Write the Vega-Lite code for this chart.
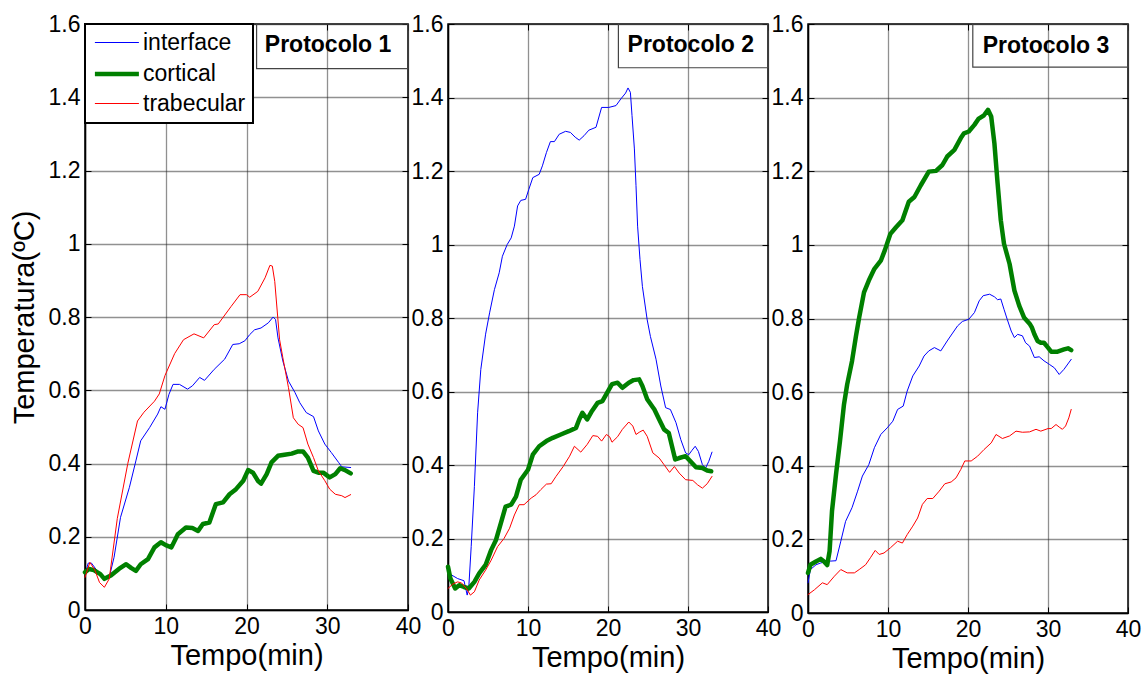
{
  "$schema": "https://vega.github.io/schema/vega-lite/v6.json",
  "background": "white",
  "padding": {"left": 9, "top": 12, "right": 5, "bottom": 5},
  "config": {
    "font": "Liberation Sans",
    "view": {"stroke": "#000", "strokeWidth": 1.5},
    "axis": {
      "domainColor": "#000", "domainWidth": 1.5,
      "tickColor": "#000", "tickSize": -6, "tickWidth": 1,
      "labelFont": "Liberation Sans", "labelFontSize": 23, "labelColor": "#000",
      "labelFlush": false, "labelOverlap": false,
      "titleFont": "Liberation Sans", "titleFontSize": 29, "titleFontWeight": "normal", "titleColor": "#000",
      "grid": true, "gridColor": "#222", "gridDash": [1, 1], "gridOpacity": 1, "gridWidth": 1.3
    },
    "axisX": {"labelPadding": 11, "titlePadding": 3},
    "axisY": {"labelPadding": 11, "titlePadding": 9},
    "legend": {
      "orient": "top-left", "offset": 0, "padding": 7,
      "strokeColor": "#000", "strokeWidth": 2, "fillColor": "white",
      "labelFont": "Liberation Sans", "labelFontSize": 23, "labelColor": "#000", "labelLimit": 400, "labelOffset": 12.6,
      "symbolType": "M-2,0H2", "symbolSize": 484, "symbolOffset": 11.4, "rowPadding": 5.5
    }
  },
  "datasets": {
    "p1": [
      {"series": "interface", "time": 0, "temp": 0.098}, {"series": "interface", "time": 0.4, "temp": 0.128}, {"series": "interface", "time": 0.8, "temp": 0.128}, {"series": "interface", "time": 1.5, "temp": 0.107}, {"series": "interface", "time": 2.4, "temp": 0.089}, {"series": "interface", "time": 3.0, "temp": 0.089}, {"series": "interface", "time": 3.6, "temp": 0.144}, {"series": "interface", "time": 4.4, "temp": 0.253}, {"series": "interface", "time": 5.5, "temp": 0.335}, {"series": "interface", "time": 6.3, "temp": 0.407}, {"series": "interface", "time": 6.9, "temp": 0.462}, {"series": "interface", "time": 8.0, "temp": 0.498}, {"series": "interface", "time": 9.0, "temp": 0.535}, {"series": "interface", "time": 9.4, "temp": 0.555}, {"series": "interface", "time": 9.9, "temp": 0.548}, {"series": "interface", "time": 10.4, "temp": 0.589}, {"series": "interface", "time": 10.9, "temp": 0.616}, {"series": "interface", "time": 11.7, "temp": 0.616}, {"series": "interface", "time": 12.7, "temp": 0.603}, {"series": "interface", "time": 13.3, "temp": 0.612}, {"series": "interface", "time": 14.2, "temp": 0.635}, {"series": "interface", "time": 14.8, "temp": 0.627}, {"series": "interface", "time": 16.0, "temp": 0.657}, {"series": "interface", "time": 17.3, "temp": 0.685}, {"series": "interface", "time": 18.3, "temp": 0.725}, {"series": "interface", "time": 19.1, "temp": 0.727}, {"series": "interface", "time": 19.8, "temp": 0.735}, {"series": "interface", "time": 20.4, "temp": 0.752}, {"series": "interface", "time": 21.0, "temp": 0.765}, {"series": "interface", "time": 21.8, "temp": 0.77}, {"series": "interface", "time": 22.7, "temp": 0.784}, {"series": "interface", "time": 23.3, "temp": 0.8}, {"series": "interface", "time": 23.6, "temp": 0.793}, {"series": "interface", "time": 23.9, "temp": 0.743}, {"series": "interface", "time": 24.5, "temp": 0.68}, {"series": "interface", "time": 25.2, "temp": 0.625}, {"series": "interface", "time": 26.0, "temp": 0.594}, {"series": "interface", "time": 26.6, "temp": 0.566}, {"series": "interface", "time": 27.4, "temp": 0.539}, {"series": "interface", "time": 28.3, "temp": 0.528}, {"series": "interface", "time": 28.9, "temp": 0.489}, {"series": "interface", "time": 29.7, "temp": 0.453}, {"series": "interface", "time": 30.5, "temp": 0.43}, {"series": "interface", "time": 31.4, "temp": 0.403}, {"series": "interface", "time": 31.8, "temp": 0.391}, {"series": "interface", "time": 32.9, "temp": 0.389},
      {"series": "cortical", "time": 0, "temp": 0.103}, {"series": "cortical", "time": 0.5, "temp": 0.112}, {"series": "cortical", "time": 1.1, "temp": 0.109}, {"series": "cortical", "time": 1.9, "temp": 0.098}, {"series": "cortical", "time": 2.4, "temp": 0.085}, {"series": "cortical", "time": 3.2, "temp": 0.094}, {"series": "cortical", "time": 4.2, "temp": 0.112}, {"series": "cortical", "time": 5.1, "temp": 0.125}, {"series": "cortical", "time": 5.7, "temp": 0.115}, {"series": "cortical", "time": 6.3, "temp": 0.107}, {"series": "cortical", "time": 6.9, "temp": 0.125}, {"series": "cortical", "time": 7.8, "temp": 0.139}, {"series": "cortical", "time": 8.6, "temp": 0.171}, {"series": "cortical", "time": 9.4, "temp": 0.185}, {"series": "cortical", "time": 10.0, "temp": 0.177}, {"series": "cortical", "time": 10.7, "temp": 0.171}, {"series": "cortical", "time": 11.5, "temp": 0.207}, {"series": "cortical", "time": 12.5, "temp": 0.225}, {"series": "cortical", "time": 13.3, "temp": 0.224}, {"series": "cortical", "time": 14.0, "temp": 0.216}, {"series": "cortical", "time": 14.6, "temp": 0.235}, {"series": "cortical", "time": 15.4, "temp": 0.239}, {"series": "cortical", "time": 16.2, "temp": 0.289}, {"series": "cortical", "time": 17.1, "temp": 0.294}, {"series": "cortical", "time": 17.9, "temp": 0.316}, {"series": "cortical", "time": 18.7, "temp": 0.33}, {"series": "cortical", "time": 19.6, "temp": 0.353}, {"series": "cortical", "time": 20.2, "temp": 0.382}, {"series": "cortical", "time": 20.8, "temp": 0.375}, {"series": "cortical", "time": 21.4, "temp": 0.353}, {"series": "cortical", "time": 21.8, "temp": 0.345}, {"series": "cortical", "time": 22.5, "temp": 0.371}, {"series": "cortical", "time": 23.1, "temp": 0.403}, {"series": "cortical", "time": 23.9, "temp": 0.421}, {"series": "cortical", "time": 24.7, "temp": 0.424}, {"series": "cortical", "time": 25.6, "temp": 0.427}, {"series": "cortical", "time": 26.4, "temp": 0.433}, {"series": "cortical", "time": 27.0, "temp": 0.433}, {"series": "cortical", "time": 27.6, "temp": 0.416}, {"series": "cortical", "time": 28.3, "temp": 0.38}, {"series": "cortical", "time": 28.9, "temp": 0.375}, {"series": "cortical", "time": 29.5, "temp": 0.375}, {"series": "cortical", "time": 30.3, "temp": 0.362}, {"series": "cortical", "time": 31.0, "temp": 0.371}, {"series": "cortical", "time": 31.6, "temp": 0.387}, {"series": "cortical", "time": 32.2, "temp": 0.382}, {"series": "cortical", "time": 32.9, "temp": 0.373},
      {"series": "trabecular", "time": 0, "temp": 0.089}, {"series": "trabecular", "time": 0.6, "temp": 0.13}, {"series": "trabecular", "time": 1.2, "temp": 0.11}, {"series": "trabecular", "time": 1.8, "temp": 0.075}, {"series": "trabecular", "time": 2.4, "temp": 0.062}, {"series": "trabecular", "time": 3.0, "temp": 0.085}, {"series": "trabecular", "time": 4.0, "temp": 0.25}, {"series": "trabecular", "time": 5.3, "temp": 0.4}, {"series": "trabecular", "time": 6.5, "temp": 0.516}, {"series": "trabecular", "time": 7.3, "temp": 0.54}, {"series": "trabecular", "time": 8.6, "temp": 0.57}, {"series": "trabecular", "time": 9.2, "temp": 0.59}, {"series": "trabecular", "time": 9.9, "temp": 0.64}, {"series": "trabecular", "time": 11.1, "temp": 0.7}, {"series": "trabecular", "time": 12.2, "temp": 0.738}, {"series": "trabecular", "time": 13.5, "temp": 0.754}, {"series": "trabecular", "time": 14.7, "temp": 0.743}, {"series": "trabecular", "time": 16.0, "temp": 0.779}, {"series": "trabecular", "time": 16.5, "temp": 0.781}, {"series": "trabecular", "time": 18.1, "temp": 0.829}, {"series": "trabecular", "time": 19.2, "temp": 0.861}, {"series": "trabecular", "time": 20.0, "temp": 0.861}, {"series": "trabecular", "time": 20.4, "temp": 0.854}, {"series": "trabecular", "time": 21.4, "temp": 0.87}, {"series": "trabecular", "time": 22.3, "temp": 0.907}, {"series": "trabecular", "time": 22.9, "temp": 0.941}, {"series": "trabecular", "time": 23.2, "temp": 0.939}, {"series": "trabecular", "time": 23.5, "temp": 0.897}, {"series": "trabecular", "time": 24.1, "temp": 0.738}, {"series": "trabecular", "time": 24.5, "temp": 0.689}, {"series": "trabecular", "time": 25.2, "temp": 0.607}, {"series": "trabecular", "time": 25.8, "temp": 0.525}, {"series": "trabecular", "time": 26.4, "temp": 0.507}, {"series": "trabecular", "time": 27.0, "temp": 0.498}, {"series": "trabecular", "time": 27.6, "temp": 0.453}, {"series": "trabecular", "time": 28.3, "temp": 0.416}, {"series": "trabecular", "time": 28.9, "temp": 0.38}, {"series": "trabecular", "time": 29.7, "temp": 0.353}, {"series": "trabecular", "time": 30.3, "temp": 0.33}, {"series": "trabecular", "time": 31.0, "temp": 0.316}, {"series": "trabecular", "time": 31.8, "temp": 0.312}, {"series": "trabecular", "time": 32.2, "temp": 0.307}, {"series": "trabecular", "time": 32.9, "temp": 0.315}
    ],
    "p2": [
      {"series": "interface", "time": 0, "temp": 0.105}, {"series": "interface", "time": 0.5, "temp": 0.1}, {"series": "interface", "time": 1.2, "temp": 0.091}, {"series": "interface", "time": 2.0, "temp": 0.085}, {"series": "interface", "time": 2.4, "temp": 0.046}, {"series": "interface", "time": 2.6, "temp": 0.068}, {"series": "interface", "time": 2.9, "temp": 0.178}, {"series": "interface", "time": 3.3, "temp": 0.342}, {"series": "interface", "time": 3.7, "temp": 0.542}, {"series": "interface", "time": 4.1, "temp": 0.66}, {"series": "interface", "time": 4.7, "temp": 0.756}, {"series": "interface", "time": 5.2, "temp": 0.814}, {"series": "interface", "time": 5.8, "temp": 0.877}, {"series": "interface", "time": 6.4, "temp": 0.923}, {"series": "interface", "time": 6.8, "temp": 0.968}, {"series": "interface", "time": 7.4, "temp": 1.0}, {"series": "interface", "time": 7.9, "temp": 1.018}, {"series": "interface", "time": 8.3, "temp": 1.05}, {"series": "interface", "time": 8.7, "temp": 1.105}, {"series": "interface", "time": 9.1, "temp": 1.12}, {"series": "interface", "time": 9.7, "temp": 1.123}, {"series": "interface", "time": 10.1, "temp": 1.15}, {"series": "interface", "time": 10.6, "temp": 1.182}, {"series": "interface", "time": 11.4, "temp": 1.191}, {"series": "interface", "time": 11.8, "temp": 1.214}, {"series": "interface", "time": 12.3, "temp": 1.25}, {"series": "interface", "time": 12.8, "temp": 1.28}, {"series": "interface", "time": 13.3, "temp": 1.28}, {"series": "interface", "time": 13.9, "temp": 1.3}, {"series": "interface", "time": 14.7, "temp": 1.308}, {"series": "interface", "time": 15.3, "temp": 1.305}, {"series": "interface", "time": 15.9, "temp": 1.292}, {"series": "interface", "time": 16.4, "temp": 1.284}, {"series": "interface", "time": 17.0, "temp": 1.296}, {"series": "interface", "time": 17.6, "temp": 1.311}, {"series": "interface", "time": 18.5, "temp": 1.319}, {"series": "interface", "time": 19.2, "temp": 1.373}, {"series": "interface", "time": 20.1, "temp": 1.373}, {"series": "interface", "time": 21.0, "temp": 1.378}, {"series": "interface", "time": 21.6, "temp": 1.396}, {"series": "interface", "time": 22.2, "temp": 1.412}, {"series": "interface", "time": 22.5, "temp": 1.426}, {"series": "interface", "time": 22.8, "temp": 1.414}, {"series": "interface", "time": 23.0, "temp": 1.351}, {"series": "interface", "time": 23.3, "temp": 1.26}, {"series": "interface", "time": 23.5, "temp": 1.16}, {"series": "interface", "time": 23.7, "temp": 1.05}, {"series": "interface", "time": 24.0, "temp": 0.959}, {"series": "interface", "time": 24.3, "temp": 0.886}, {"series": "interface", "time": 24.9, "temp": 0.795}, {"series": "interface", "time": 25.3, "temp": 0.75}, {"series": "interface", "time": 26.0, "temp": 0.688}, {"series": "interface", "time": 26.6, "temp": 0.615}, {"series": "interface", "time": 27.2, "temp": 0.556}, {"series": "interface", "time": 27.8, "temp": 0.551}, {"series": "interface", "time": 28.5, "temp": 0.515}, {"series": "interface", "time": 29.1, "temp": 0.469}, {"series": "interface", "time": 29.7, "temp": 0.433}, {"series": "interface", "time": 30.1, "temp": 0.428}, {"series": "interface", "time": 30.5, "temp": 0.44}, {"series": "interface", "time": 30.9, "temp": 0.451}, {"series": "interface", "time": 31.3, "temp": 0.437}, {"series": "interface", "time": 31.8, "temp": 0.401}, {"series": "interface", "time": 32.2, "temp": 0.392}, {"series": "interface", "time": 32.6, "temp": 0.41}, {"series": "interface", "time": 33.0, "temp": 0.435},
      {"series": "cortical", "time": 0, "temp": 0.123}, {"series": "cortical", "time": 0.3, "temp": 0.091}, {"series": "cortical", "time": 0.9, "temp": 0.064}, {"series": "cortical", "time": 1.4, "temp": 0.073}, {"series": "cortical", "time": 2.0, "temp": 0.068}, {"series": "cortical", "time": 2.6, "temp": 0.064}, {"series": "cortical", "time": 3.3, "temp": 0.082}, {"series": "cortical", "time": 3.9, "temp": 0.105}, {"series": "cortical", "time": 4.7, "temp": 0.128}, {"series": "cortical", "time": 5.4, "temp": 0.169}, {"series": "cortical", "time": 6.0, "temp": 0.196}, {"series": "cortical", "time": 6.6, "temp": 0.241}, {"series": "cortical", "time": 7.2, "temp": 0.287}, {"series": "cortical", "time": 7.9, "temp": 0.292}, {"series": "cortical", "time": 8.5, "temp": 0.314}, {"series": "cortical", "time": 9.1, "temp": 0.36}, {"series": "cortical", "time": 10.0, "temp": 0.387}, {"series": "cortical", "time": 10.6, "temp": 0.428}, {"series": "cortical", "time": 11.4, "temp": 0.451}, {"series": "cortical", "time": 12.3, "temp": 0.465}, {"series": "cortical", "time": 13.1, "temp": 0.474}, {"series": "cortical", "time": 14.1, "temp": 0.483}, {"series": "cortical", "time": 15.1, "temp": 0.492}, {"series": "cortical", "time": 16.0, "temp": 0.501}, {"series": "cortical", "time": 16.4, "temp": 0.524}, {"series": "cortical", "time": 16.8, "temp": 0.542}, {"series": "cortical", "time": 17.4, "temp": 0.524}, {"series": "cortical", "time": 18.0, "temp": 0.547}, {"series": "cortical", "time": 18.7, "temp": 0.569}, {"series": "cortical", "time": 19.3, "temp": 0.574}, {"series": "cortical", "time": 19.9, "temp": 0.597}, {"series": "cortical", "time": 20.5, "temp": 0.62}, {"series": "cortical", "time": 21.2, "temp": 0.624}, {"series": "cortical", "time": 21.8, "temp": 0.61}, {"series": "cortical", "time": 22.6, "temp": 0.624}, {"series": "cortical", "time": 23.2, "temp": 0.631}, {"series": "cortical", "time": 23.9, "temp": 0.633}, {"series": "cortical", "time": 24.3, "temp": 0.615}, {"series": "cortical", "time": 24.9, "temp": 0.579}, {"series": "cortical", "time": 25.8, "temp": 0.551}, {"series": "cortical", "time": 26.4, "temp": 0.524}, {"series": "cortical", "time": 27.0, "temp": 0.497}, {"series": "cortical", "time": 27.6, "temp": 0.487}, {"series": "cortical", "time": 28.0, "temp": 0.451}, {"series": "cortical", "time": 28.4, "temp": 0.415}, {"series": "cortical", "time": 28.9, "temp": 0.419}, {"series": "cortical", "time": 29.7, "temp": 0.424}, {"series": "cortical", "time": 30.3, "temp": 0.41}, {"series": "cortical", "time": 31.0, "temp": 0.394}, {"series": "cortical", "time": 31.8, "temp": 0.392}, {"series": "cortical", "time": 32.4, "temp": 0.385}, {"series": "cortical", "time": 32.9, "temp": 0.383},
      {"series": "trabecular", "time": 0, "temp": 0.064}, {"series": "trabecular", "time": 0.6, "temp": 0.076}, {"series": "trabecular", "time": 1.2, "temp": 0.082}, {"series": "trabecular", "time": 1.7, "temp": 0.079}, {"series": "trabecular", "time": 2.3, "temp": 0.064}, {"series": "trabecular", "time": 2.8, "temp": 0.046}, {"series": "trabecular", "time": 3.3, "temp": 0.055}, {"series": "trabecular", "time": 3.9, "temp": 0.087}, {"series": "trabecular", "time": 4.7, "temp": 0.114}, {"series": "trabecular", "time": 5.4, "temp": 0.141}, {"series": "trabecular", "time": 6.2, "temp": 0.178}, {"series": "trabecular", "time": 7.0, "temp": 0.2}, {"series": "trabecular", "time": 7.7, "temp": 0.228}, {"series": "trabecular", "time": 8.3, "temp": 0.264}, {"series": "trabecular", "time": 8.9, "temp": 0.292}, {"series": "trabecular", "time": 9.5, "temp": 0.292}, {"series": "trabecular", "time": 10.4, "temp": 0.31}, {"series": "trabecular", "time": 11.0, "temp": 0.319}, {"series": "trabecular", "time": 11.6, "temp": 0.333}, {"series": "trabecular", "time": 12.3, "temp": 0.348}, {"series": "trabecular", "time": 12.9, "temp": 0.349}, {"series": "trabecular", "time": 13.5, "temp": 0.369}, {"series": "trabecular", "time": 14.4, "temp": 0.396}, {"series": "trabecular", "time": 15.2, "temp": 0.424}, {"series": "trabecular", "time": 15.8, "temp": 0.451}, {"series": "trabecular", "time": 16.6, "temp": 0.435}, {"series": "trabecular", "time": 17.4, "temp": 0.456}, {"series": "trabecular", "time": 18.1, "temp": 0.48}, {"series": "trabecular", "time": 18.7, "temp": 0.478}, {"series": "trabecular", "time": 19.2, "temp": 0.465}, {"series": "trabecular", "time": 19.8, "temp": 0.483}, {"series": "trabecular", "time": 20.2, "temp": 0.477}, {"series": "trabecular", "time": 20.5, "temp": 0.462}, {"series": "trabecular", "time": 21.2, "temp": 0.477}, {"series": "trabecular", "time": 21.8, "temp": 0.497}, {"series": "trabecular", "time": 22.6, "temp": 0.517}, {"series": "trabecular", "time": 23.1, "temp": 0.506}, {"series": "trabecular", "time": 23.5, "temp": 0.483}, {"series": "trabecular", "time": 23.9, "temp": 0.489}, {"series": "trabecular", "time": 24.4, "temp": 0.495}, {"series": "trabecular", "time": 24.9, "temp": 0.478}, {"series": "trabecular", "time": 25.6, "temp": 0.433}, {"series": "trabecular", "time": 26.4, "temp": 0.419}, {"series": "trabecular", "time": 27.0, "temp": 0.401}, {"series": "trabecular", "time": 27.7, "temp": 0.38}, {"series": "trabecular", "time": 28.3, "temp": 0.396}, {"series": "trabecular", "time": 28.9, "temp": 0.378}, {"series": "trabecular", "time": 29.7, "temp": 0.36}, {"series": "trabecular", "time": 30.6, "temp": 0.358}, {"series": "trabecular", "time": 31.2, "temp": 0.346}, {"series": "trabecular", "time": 31.8, "temp": 0.337}, {"series": "trabecular", "time": 32.4, "temp": 0.349}, {"series": "trabecular", "time": 33.0, "temp": 0.369}
    ],
    "p3": [
      {"series": "interface", "time": 0, "temp": 0.082}, {"series": "interface", "time": 0.3, "temp": 0.118}, {"series": "interface", "time": 1.0, "temp": 0.131}, {"series": "interface", "time": 1.6, "temp": 0.136}, {"series": "interface", "time": 2.2, "temp": 0.139}, {"series": "interface", "time": 2.8, "temp": 0.141}, {"series": "interface", "time": 3.5, "temp": 0.142}, {"series": "interface", "time": 4.1, "temp": 0.195}, {"series": "interface", "time": 4.7, "temp": 0.249}, {"series": "interface", "time": 5.5, "temp": 0.286}, {"series": "interface", "time": 6.2, "temp": 0.331}, {"series": "interface", "time": 6.8, "temp": 0.372}, {"series": "interface", "time": 7.6, "temp": 0.403}, {"series": "interface", "time": 8.3, "temp": 0.449}, {"series": "interface", "time": 9.1, "temp": 0.485}, {"series": "interface", "time": 9.9, "temp": 0.503}, {"series": "interface", "time": 10.6, "temp": 0.521}, {"series": "interface", "time": 11.2, "temp": 0.553}, {"series": "interface", "time": 11.9, "temp": 0.562}, {"series": "interface", "time": 12.4, "temp": 0.603}, {"series": "interface", "time": 13.1, "temp": 0.644}, {"series": "interface", "time": 13.9, "temp": 0.671}, {"series": "interface", "time": 14.5, "temp": 0.698}, {"series": "interface", "time": 15.1, "temp": 0.712}, {"series": "interface", "time": 15.8, "temp": 0.721}, {"series": "interface", "time": 16.6, "temp": 0.712}, {"series": "interface", "time": 17.4, "temp": 0.739}, {"series": "interface", "time": 18.0, "temp": 0.758}, {"series": "interface", "time": 18.7, "temp": 0.78}, {"series": "interface", "time": 19.3, "temp": 0.792}, {"series": "interface", "time": 20.1, "temp": 0.798}, {"series": "interface", "time": 20.8, "temp": 0.816}, {"series": "interface", "time": 21.4, "temp": 0.848}, {"series": "interface", "time": 21.9, "temp": 0.862}, {"series": "interface", "time": 22.7, "temp": 0.866}, {"series": "interface", "time": 23.3, "temp": 0.859}, {"series": "interface", "time": 23.7, "temp": 0.851}, {"series": "interface", "time": 24.1, "temp": 0.853}, {"series": "interface", "time": 24.5, "temp": 0.825}, {"series": "interface", "time": 24.9, "temp": 0.798}, {"series": "interface", "time": 25.4, "temp": 0.766}, {"series": "interface", "time": 25.8, "temp": 0.748}, {"series": "interface", "time": 26.2, "temp": 0.757}, {"series": "interface", "time": 26.8, "temp": 0.753}, {"series": "interface", "time": 27.2, "temp": 0.734}, {"series": "interface", "time": 27.7, "temp": 0.725}, {"series": "interface", "time": 28.3, "temp": 0.694}, {"series": "interface", "time": 28.9, "temp": 0.696}, {"series": "interface", "time": 29.5, "temp": 0.685}, {"series": "interface", "time": 30.2, "temp": 0.675}, {"series": "interface", "time": 30.8, "temp": 0.666}, {"series": "interface", "time": 31.4, "temp": 0.648}, {"series": "interface", "time": 32.0, "temp": 0.662}, {"series": "interface", "time": 32.9, "temp": 0.689},
      {"series": "cortical", "time": 0, "temp": 0.109}, {"series": "cortical", "time": 0.3, "temp": 0.131}, {"series": "cortical", "time": 1.0, "temp": 0.14}, {"series": "cortical", "time": 1.6, "temp": 0.147}, {"series": "cortical", "time": 2.0, "temp": 0.14}, {"series": "cortical", "time": 2.4, "temp": 0.13}, {"series": "cortical", "time": 2.7, "temp": 0.168}, {"series": "cortical", "time": 3.0, "temp": 0.277}, {"series": "cortical", "time": 3.5, "temp": 0.376}, {"series": "cortical", "time": 4.0, "temp": 0.467}, {"series": "cortical", "time": 4.5, "temp": 0.567}, {"series": "cortical", "time": 4.9, "temp": 0.621}, {"series": "cortical", "time": 5.5, "temp": 0.684}, {"series": "cortical", "time": 6.0, "temp": 0.753}, {"series": "cortical", "time": 6.4, "temp": 0.803}, {"series": "cortical", "time": 7.0, "temp": 0.871}, {"series": "cortical", "time": 7.6, "temp": 0.903}, {"series": "cortical", "time": 8.3, "temp": 0.935}, {"series": "cortical", "time": 9.1, "temp": 0.957}, {"series": "cortical", "time": 9.6, "temp": 0.985}, {"series": "cortical", "time": 10.3, "temp": 1.03}, {"series": "cortical", "time": 11.0, "temp": 1.048}, {"series": "cortical", "time": 11.8, "temp": 1.067}, {"series": "cortical", "time": 12.6, "temp": 1.117}, {"series": "cortical", "time": 13.3, "temp": 1.13}, {"series": "cortical", "time": 14.1, "temp": 1.162}, {"series": "cortical", "time": 15.1, "temp": 1.199}, {"series": "cortical", "time": 16.0, "temp": 1.201}, {"series": "cortical", "time": 16.8, "temp": 1.217}, {"series": "cortical", "time": 17.4, "temp": 1.24}, {"series": "cortical", "time": 18.3, "temp": 1.258}, {"series": "cortical", "time": 19.1, "temp": 1.29}, {"series": "cortical", "time": 19.5, "temp": 1.303}, {"series": "cortical", "time": 20.1, "temp": 1.308}, {"series": "cortical", "time": 20.8, "temp": 1.326}, {"series": "cortical", "time": 21.3, "temp": 1.342}, {"series": "cortical", "time": 22.0, "temp": 1.352}, {"series": "cortical", "time": 22.5, "temp": 1.367}, {"series": "cortical", "time": 22.9, "temp": 1.349}, {"series": "cortical", "time": 23.3, "temp": 1.276}, {"series": "cortical", "time": 23.7, "temp": 1.167}, {"series": "cortical", "time": 24.1, "temp": 1.067}, {"series": "cortical", "time": 24.5, "temp": 1.003}, {"series": "cortical", "time": 25.2, "temp": 0.948}, {"series": "cortical", "time": 25.8, "temp": 0.876}, {"series": "cortical", "time": 26.4, "temp": 0.835}, {"series": "cortical", "time": 27.0, "temp": 0.803}, {"series": "cortical", "time": 27.7, "temp": 0.786}, {"series": "cortical", "time": 28.0, "temp": 0.775}, {"series": "cortical", "time": 28.3, "temp": 0.757}, {"series": "cortical", "time": 28.7, "temp": 0.739}, {"series": "cortical", "time": 29.1, "temp": 0.734}, {"series": "cortical", "time": 29.5, "temp": 0.734}, {"series": "cortical", "time": 30.0, "temp": 0.721}, {"series": "cortical", "time": 30.4, "temp": 0.71}, {"series": "cortical", "time": 31.2, "temp": 0.71}, {"series": "cortical", "time": 32.0, "temp": 0.716}, {"series": "cortical", "time": 32.5, "temp": 0.719}, {"series": "cortical", "time": 32.9, "temp": 0.714},
      {"series": "trabecular", "time": 0, "temp": 0.05}, {"series": "trabecular", "time": 0.8, "temp": 0.063}, {"series": "trabecular", "time": 1.8, "temp": 0.082}, {"series": "trabecular", "time": 2.4, "temp": 0.077}, {"series": "trabecular", "time": 3.3, "temp": 0.1}, {"series": "trabecular", "time": 4.1, "temp": 0.118}, {"series": "trabecular", "time": 4.9, "temp": 0.109}, {"series": "trabecular", "time": 5.8, "temp": 0.109}, {"series": "trabecular", "time": 6.4, "temp": 0.118}, {"series": "trabecular", "time": 7.2, "temp": 0.131}, {"series": "trabecular", "time": 7.8, "temp": 0.15}, {"series": "trabecular", "time": 8.4, "temp": 0.17}, {"series": "trabecular", "time": 8.9, "temp": 0.159}, {"series": "trabecular", "time": 9.5, "temp": 0.163}, {"series": "trabecular", "time": 10.3, "temp": 0.177}, {"series": "trabecular", "time": 11.2, "temp": 0.195}, {"series": "trabecular", "time": 11.8, "temp": 0.19}, {"series": "trabecular", "time": 12.4, "temp": 0.213}, {"series": "trabecular", "time": 13.1, "temp": 0.236}, {"series": "trabecular", "time": 13.7, "temp": 0.258}, {"series": "trabecular", "time": 14.3, "temp": 0.295}, {"series": "trabecular", "time": 14.9, "temp": 0.311}, {"series": "trabecular", "time": 15.6, "temp": 0.311}, {"series": "trabecular", "time": 16.4, "temp": 0.331}, {"series": "trabecular", "time": 17.1, "temp": 0.351}, {"series": "trabecular", "time": 17.9, "temp": 0.356}, {"series": "trabecular", "time": 18.5, "temp": 0.367}, {"series": "trabecular", "time": 19.1, "temp": 0.39}, {"series": "trabecular", "time": 19.6, "temp": 0.413}, {"series": "trabecular", "time": 20.4, "temp": 0.413}, {"series": "trabecular", "time": 21.2, "temp": 0.426}, {"series": "trabecular", "time": 22.0, "temp": 0.444}, {"series": "trabecular", "time": 22.9, "temp": 0.462}, {"series": "trabecular", "time": 23.5, "temp": 0.485}, {"series": "trabecular", "time": 24.3, "temp": 0.474}, {"series": "trabecular", "time": 25.2, "temp": 0.481}, {"series": "trabecular", "time": 26.0, "temp": 0.494}, {"series": "trabecular", "time": 26.8, "temp": 0.491}, {"series": "trabecular", "time": 27.7, "temp": 0.492}, {"series": "trabecular", "time": 28.5, "temp": 0.499}, {"series": "trabecular", "time": 29.1, "temp": 0.494}, {"series": "trabecular", "time": 30.0, "temp": 0.501}, {"series": "trabecular", "time": 30.4, "temp": 0.501}, {"series": "trabecular", "time": 31.0, "temp": 0.512}, {"series": "trabecular", "time": 31.4, "temp": 0.505}, {"series": "trabecular", "time": 31.8, "temp": 0.499}, {"series": "trabecular", "time": 32.2, "temp": 0.508}, {"series": "trabecular", "time": 32.6, "temp": 0.53}, {"series": "trabecular", "time": 32.9, "temp": 0.553}
    ]
  },
  "spacing": 40,
  "bounds": "flush",
  "resolve": {
    "scale": {"x": "independent", "y": "independent", "color": "independent", "strokeWidth": "independent"},
    "legend": {"color": "independent", "strokeWidth": "independent"}
  },
  "hconcat": [
    {
      "width": 323, "height": 586,
      "resolve": {"axis": {"x": "independent", "y": "independent"}},
      "layer": [
        {
          "data": {"name": "p1"},
          "mark": {"type": "line", "strokeJoin": "round", "strokeCap": "round"},
          "encoding": {
            "x": {"field": "time", "type": "quantitative", "scale": {"domain": [0, 40], "nice": false}, "axis": {"values": [0, 10, 20, 30, 40], "title": "Tempo(min)"}},
            "y": {"field": "temp", "type": "quantitative", "scale": {"domain": [0, 1.6], "nice": false}, "axis": {"values": [0, 0.2, 0.4, 0.6, 0.8, 1, 1.2, 1.4, 1.6], "format": "~g", "title": "Temperatura(ºC)"}},
            "color": {"field": "series", "type": "nominal", "scale": {"domain": ["interface", "cortical", "trabecular"], "range": ["#0000ff", "#008000", "#ff0000"]},
              "legend": {"title": null, "encode": {"symbols": {"update": {"stroke": {"signal": "datum.value === 'interface' ? '#0000ff' : datum.value === 'cortical' ? '#008000' : '#ff0000'"}}}}}},
            "strokeWidth": {"field": "series", "type": "nominal", "scale": {"type": "ordinal", "domain": ["interface", "cortical", "trabecular"], "range": [1, 4.5, 1]},
              "legend": {"title": null, "encode": {"symbols": {"update": {"stroke": {"signal": "datum.value === 'interface' ? '#0000ff' : datum.value === 'cortical' ? '#008000' : '#ff0000'"}}}}}}
          }
        },
        {
          "data": {"values": [{"label": "Protocolo 1"}]},
          "mark": {"type": "rect", "fill": null, "fillOpacity": 0, "stroke": "#444", "strokeWidth": 1.2},
          "encoding": {
            "x": {"datum": 21.25, "axis": {"orient": "top", "values": [0, 10, 20, 30, 40], "labels": false, "grid": false, "domain": false, "title": null}},
            "x2": {"datum": 40},
            "y": {"datum": 1.478, "axis": {"orient": "right", "values": [0, 0.2, 0.4, 0.6, 0.8, 1, 1.2, 1.4, 1.6], "labels": false, "grid": false, "domain": false, "title": null}},
            "y2": {"datum": 1.6}
          }
        },
        {
          "data": {"values": [{"label": "Protocolo 1"}]},
          "mark": {"type": "text", "font": "Liberation Sans", "fontWeight": "bold", "fontSize": 23, "color": "#000", "align": "center", "baseline": "middle"},
          "encoding": {"x": {"datum": 30.1, "axis": null}, "y": {"datum": 1.543, "axis": null}, "text": {"field": "label"}}
        }
      ]
    },
    {
      "width": 320, "height": 588,
      "resolve": {"axis": {"x": "independent", "y": "independent"}},
      "layer": [
        {
          "data": {"name": "p2"},
          "mark": {"type": "line", "strokeJoin": "round", "strokeCap": "round"},
          "encoding": {
            "x": {"field": "time", "type": "quantitative", "scale": {"domain": [0, 40], "nice": false}, "axis": {"values": [0, 10, 20, 30, 40], "title": "Tempo(min)"}},
            "y": {"field": "temp", "type": "quantitative", "scale": {"domain": [0, 1.6], "nice": false}, "axis": {"values": [0, 0.2, 0.4, 0.6, 0.8, 1, 1.2, 1.4, 1.6], "format": "~g", "title": null}},
            "color": {"field": "series", "type": "nominal", "scale": {"domain": ["interface", "cortical", "trabecular"], "range": ["#0000ff", "#008000", "#ff0000"]}, "legend": null},
            "strokeWidth": {"field": "series", "type": "nominal", "scale": {"type": "ordinal", "domain": ["interface", "cortical", "trabecular"], "range": [1, 4.5, 1]}, "legend": null}
          }
        },
        {
          "data": {"values": [{"label": "Protocolo 2"}]},
          "mark": {"type": "rect", "fill": null, "fillOpacity": 0, "stroke": "#444", "strokeWidth": 1.2},
          "encoding": {
            "x": {"datum": 21.3, "axis": {"orient": "top", "values": [0, 10, 20, 30, 40], "labels": false, "grid": false, "domain": false, "title": null}},
            "x2": {"datum": 40},
            "y": {"datum": 1.481, "axis": {"orient": "right", "values": [0, 0.2, 0.4, 0.6, 0.8, 1, 1.2, 1.4, 1.6], "labels": false, "grid": false, "domain": false, "title": null}},
            "y2": {"datum": 1.6}
          }
        },
        {
          "data": {"values": [{"label": "Protocolo 2"}]},
          "mark": {"type": "text", "font": "Liberation Sans", "fontWeight": "bold", "fontSize": 23, "color": "#000", "align": "center", "baseline": "middle"},
          "encoding": {"x": {"datum": 30.35, "axis": null}, "y": {"datum": 1.542, "axis": null}, "text": {"field": "label"}}
        }
      ]
    },
    {
      "width": 320, "height": 589,
      "resolve": {"axis": {"x": "independent", "y": "independent"}},
      "layer": [
        {
          "data": {"name": "p3"},
          "mark": {"type": "line", "strokeJoin": "round", "strokeCap": "round"},
          "encoding": {
            "x": {"field": "time", "type": "quantitative", "scale": {"domain": [0, 40], "nice": false}, "axis": {"values": [0, 10, 20, 30, 40], "title": "Tempo(min)"}},
            "y": {"field": "temp", "type": "quantitative", "scale": {"domain": [0, 1.6], "nice": false}, "axis": {"values": [0, 0.2, 0.4, 0.6, 0.8, 1, 1.2, 1.4, 1.6], "format": "~g", "title": null}},
            "color": {"field": "series", "type": "nominal", "scale": {"domain": ["interface", "cortical", "trabecular"], "range": ["#0000ff", "#008000", "#ff0000"]}, "legend": null},
            "strokeWidth": {"field": "series", "type": "nominal", "scale": {"type": "ordinal", "domain": ["interface", "cortical", "trabecular"], "range": [1, 4.5, 1]}, "legend": null}
          }
        },
        {
          "data": {"values": [{"label": "Protocolo 3"}]},
          "mark": {"type": "rect", "fill": null, "fillOpacity": 0, "stroke": "#444", "strokeWidth": 1.2},
          "encoding": {
            "x": {"datum": 20.6, "axis": {"orient": "top", "values": [0, 10, 20, 30, 40], "labels": false, "grid": false, "domain": false, "title": null}},
            "x2": {"datum": 40},
            "y": {"datum": 1.483, "axis": {"orient": "right", "values": [0, 0.2, 0.4, 0.6, 0.8, 1, 1.2, 1.4, 1.6], "labels": false, "grid": false, "domain": false, "title": null}},
            "y2": {"datum": 1.6}
          }
        },
        {
          "data": {"values": [{"label": "Protocolo 3"}]},
          "mark": {"type": "text", "font": "Liberation Sans", "fontWeight": "bold", "fontSize": 23, "color": "#000", "align": "center", "baseline": "middle"},
          "encoding": {"x": {"datum": 29.75, "axis": null}, "y": {"datum": 1.541, "axis": null}, "text": {"field": "label"}}
        }
      ]
    }
  ]
}
